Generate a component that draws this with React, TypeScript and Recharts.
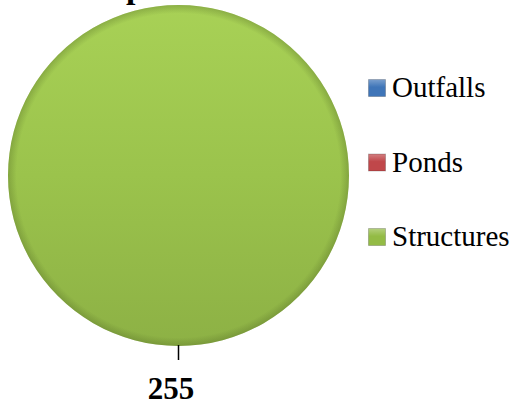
import React from 'react';
import { PieChart, Pie, Cell, Legend } from 'recharts';

const categories = ['Outfalls', 'Ponds', 'Structures'];
const counts = [0, 0, 255];
const colors = ['#3f75b8', '#c0474a', '#93bb45'];

const data = categories.map((name, i) => ({ name, value: counts[i] }));

const RADIAN = Math.PI / 180;
const FONT = 'Liberation Serif, Times New Roman, serif';

// value label under the pie with a short leader tick
const renderLabel = (props: any) => {
  const { cx, cy, midAngle, outerRadius, value } = props;
  if (!value) return null;
  const cos = Math.cos(-midAngle * RADIAN);
  const sin = Math.sin(-midAngle * RADIAN);
  const x1 = cx + (outerRadius - 1) * cos;
  const y1 = cy + (outerRadius - 1) * sin;
  const x2 = cx + (outerRadius + 14) * cos;
  const y2 = cy + (outerRadius + 14) * sin;
  const tx = cx + (outerRadius + 53) * cos - 7.5;
  const ty = cy + (outerRadius + 53) * sin;
  return (
    <g>
      <line x1={x1} y1={y1} x2={x2} y2={y2} stroke="#000" strokeWidth={1.5} />
      <text x={tx} y={ty} textAnchor="middle" fontFamily={FONT} fontWeight="bold" fontSize={31} fill="#000">
        {value}
      </text>
    </g>
  );
};

const ROW = 74.5;

const renderLegend = () => (
  <svg width={150} height={230} style={{ display: 'block', overflow: 'visible' }}>
    <defs>
      {categories.map((name, i) => (
        <linearGradient key={name} id={`lg${i}`} x1="0" y1="0" x2="0" y2="1">
          <stop offset="0%" stopColor={colors[i]} stopOpacity={0.7} />
          <stop offset="45%" stopColor={colors[i]} />
          <stop offset="100%" stopColor={colors[i]} />
        </linearGradient>
      ))}
    </defs>
    {categories.map((name, i) => (
      <g key={name} transform={`translate(0, ${i * ROW})`}>
        <rect x={0.5} y={28.5} width={17} height={17} fill={`url(#lg${i})`} stroke="rgba(0,0,0,0.2)" />
        <text x={24} y={46} fontFamily={FONT} fontSize={29} fill="#000">
          {name}
        </text>
      </g>
    ))}
  </svg>
);

export default function App() {
  return (
    <div
      style={{
        position: 'fixed',
        left: 0,
        top: 0,
        width: 515,
        height: 407,
        background: '#fff',
        overflow: 'hidden',
      }}
    >
      <PieChart width={515} height={407} margin={{ top: 0, right: 0, bottom: 0, left: 0 }}>
        <defs>
          <linearGradient id="greenGrad" x1="0" y1="0" x2="0" y2="1">
            <stop offset="0%" stopColor="#a8d156" />
            <stop offset="50%" stopColor="#9bc34c" />
            <stop offset="100%" stopColor="#8db145" />
          </linearGradient>
          <radialGradient id="edgeShade" cx="50%" cy="50%" r="50%">
            <stop offset="0%" stopColor="#4a6020" stopOpacity={0} />
            <stop offset="95%" stopColor="#4a6020" stopOpacity={0} />
            <stop offset="100%" stopColor="#4a6020" stopOpacity={0.3} />
          </radialGradient>
        </defs>
        <Pie
          data={data}
          dataKey="value"
          nameKey="name"
          cx={178.5}
          cy={175.5}
          outerRadius={170.5}
          startAngle={90}
          endAngle={-270}
          label={renderLabel}
          labelLine={false}
          stroke="none"
          isAnimationActive={false}
        >
          {data.map((entry, i) => (
            <Cell
              key={entry.name}
              fill={entry.name === 'Structures' ? 'url(#greenGrad)' : colors[i]}
              stroke="none"
            />
          ))}
        </Pie>
        {/* soft bevel at the rim */}
        <Pie
          data={data}
          dataKey="value"
          nameKey="name"
          cx={178.5}
          cy={175.5}
          outerRadius={170.5}
          startAngle={90}
          endAngle={-270}
          label={false}
          labelLine={false}
          stroke="none"
          isAnimationActive={false}
          legendType="none"
        >
          {data.map((entry) => (
            <Cell key={entry.name} fill="url(#edgeShade)" stroke="none" />
          ))}
        </Pie>
        <Legend
          content={renderLegend}
          wrapperStyle={{ position: 'absolute', left: 368, top: 51, width: 150 }}
        />
      </PieChart>
      {/* chart title, cut off by the top edge in the source image */}
      <svg width={515} height={20} style={{ position: 'absolute', left: 0, top: 0 }}>
        <text x={126} y={-2.5} fontFamily={FONT} fontWeight="bold" fontSize={34} fill="#000">
          p
        </text>
      </svg>
    </div>
  );
}
